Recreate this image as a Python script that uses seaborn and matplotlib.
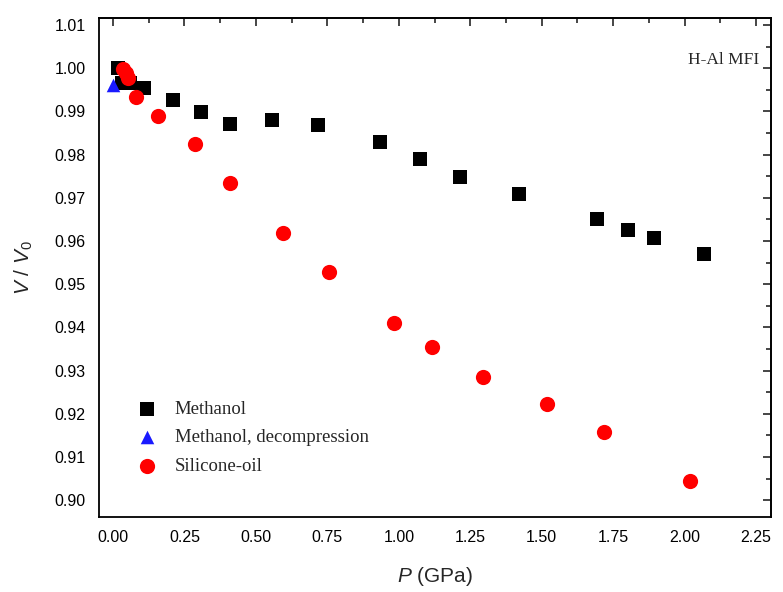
import numpy as np
import pandas as pd
import matplotlib
matplotlib.use("Agg")
import matplotlib.pyplot as plt
from matplotlib.ticker import MultipleLocator, FormatStrFormatter
import seaborn as sns

# ---- data ----
meth_p = [0.016, 0.030, 0.060, 0.109, 0.209, 0.308, 0.408, 0.557, 0.717, 0.934,
          1.074, 1.214, 1.422, 1.692, 1.800, 1.891, 2.069]
meth_v = [1.0000, 0.9966, 0.9965, 0.9953, 0.9926, 0.9898, 0.9871, 0.9880, 0.9868, 0.9829,
          0.9790, 0.9747, 0.9708, 0.9651, 0.9625, 0.9607, 0.9569]
dec_p = [0.001]
dec_v = [0.9961]
sil_p = [0.036, 0.045, 0.052, 0.079, 0.159, 0.287, 0.409, 0.596, 0.756, 0.984,
         1.115, 1.293, 1.519, 1.718, 2.019]
sil_v = [0.9997, 0.9988, 0.9977, 0.9934, 0.9890, 0.9824, 0.9734, 0.9618, 0.9529, 0.9411,
         0.9355, 0.9286, 0.9222, 0.9157, 0.9044]
series_names = ["Methanol", "Methanol, decompression", "Silicone-oil"]

df = pd.concat([
    pd.DataFrame({"P": meth_p, "V": meth_v, "series": series_names[0]}),
    pd.DataFrame({"P": dec_p, "V": dec_v, "series": series_names[1]}),
    pd.DataFrame({"P": sil_p, "V": sil_v, "series": series_names[2]}),
])

sns.set_style("white")
plt.rcParams["font.family"] = ["Liberation Sans", "DejaVu Sans"]
plt.rcParams["mathtext.fontset"] = "custom"
plt.rcParams["mathtext.it"] = "Liberation Sans:italic"
plt.rcParams["mathtext.rm"] = "Liberation Sans"

fig = plt.figure(figsize=(7.83, 5.92), dpi=100)
ax = fig.add_axes([99/783, 1-517/592, (771-99)/783, (517-18)/592])

palette = {series_names[0]: "black", series_names[1]: "#1a1aff", series_names[2]: "#ff0000"}
markers = {series_names[0]: "s", series_names[1]: "^", series_names[2]: "o"}
sizes = {series_names[0]: 95, series_names[1]: 95, series_names[2]: 120}
for name in series_names:
    sub = df[df["series"] == name]
    sns.scatterplot(data=sub, x="P", y="V", color=palette[name], marker=markers[name],
                    s=sizes[name], linewidth=0, ax=ax, label=name, zorder=3 if name != series_names[0] else 2)

ax.set_xlim(-0.049, 2.302)
ax.set_ylim(0.8961, 1.0116)
ax.xaxis.set_major_locator(MultipleLocator(0.25))
ax.xaxis.set_minor_locator(MultipleLocator(0.125))
ax.yaxis.set_major_locator(MultipleLocator(0.01))
ax.yaxis.set_minor_locator(MultipleLocator(0.005))
ax.xaxis.set_major_formatter(FormatStrFormatter("%.2f"))
ax.yaxis.set_major_formatter(FormatStrFormatter("%.2f"))
ax.tick_params(which="major", direction="out", length=6, width=1.2, labelsize=11.5, colors="black")
ax.tick_params(which="minor", direction="out", length=3.5, width=1.2)
for s in ax.spines.values():
    s.set_color("black")
    s.set_linewidth(1.3)

# inward ticks on top and right
secx = ax.secondary_xaxis("top")
secx.xaxis.set_major_locator(MultipleLocator(0.25))
secx.xaxis.set_minor_locator(MultipleLocator(0.125))
secx.tick_params(which="major", direction="in", length=6, width=1.2, labeltop=False)
secx.tick_params(which="minor", direction="in", length=3.5, width=1.2)
secx.spines["top"].set_linewidth(1.3)
secy = ax.secondary_yaxis("right")
secy.yaxis.set_major_locator(MultipleLocator(0.01))
secy.yaxis.set_minor_locator(MultipleLocator(0.005))
secy.tick_params(which="major", direction="in", length=6, width=1.2, labelright=False)
secy.tick_params(which="minor", direction="in", length=3.5, width=1.2)
secy.spines["right"].set_linewidth(1.3)

ax.set_xlabel(r"$P$ (GPa)", fontsize=15, labelpad=14)
ax.set_ylabel(r"$V\ /\ V_0$", fontsize=15, labelpad=14)

ax.text(0.982, 0.915, "H-Al MFI", transform=ax.transAxes, ha="right", va="center",
        fontsize=12.5, family=["Liberation Serif", "DejaVu Serif"])

leg = ax.legend(loc="lower left", bbox_to_anchor=(0.033, 0.07), frameon=False,
                prop={"family": ["Liberation Serif", "DejaVu Serif"], "size": 13.5},
                handletextpad=0.45, labelspacing=0.6, borderaxespad=0)

fig.savefig("out.png", dpi=100)
